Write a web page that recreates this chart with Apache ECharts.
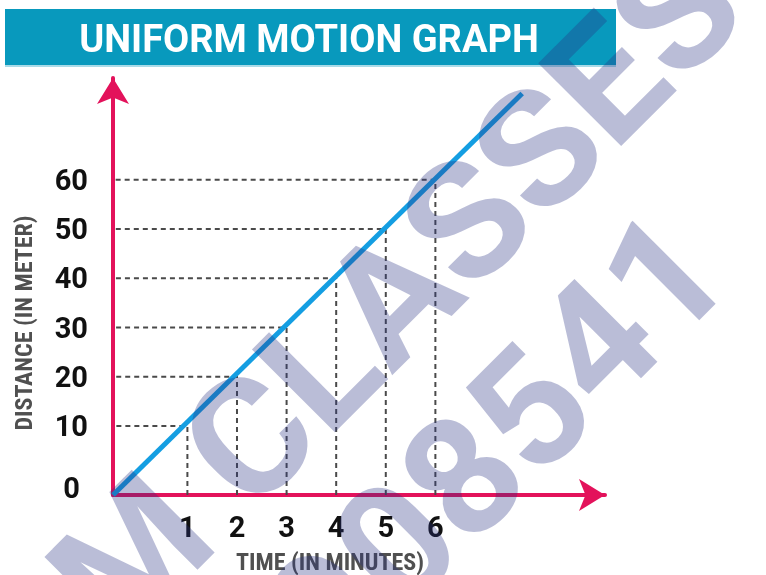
<!DOCTYPE html>
<html>
<head>
<meta charset="utf-8">
<title>Uniform Motion Graph</title>
<script src="https://cdn.jsdelivr.net/npm/echarts@6.0.0/dist/echarts.min.js"></script>
<style>
  html, body { margin: 0; padding: 0; background: #fff; }
  #chart { width: 766px; height: 575px; }
</style>
</head>
<body>
<div id="chart"></div>
<script>
// tick labels
const TIME_TICKS = [1, 2, 3, 4, 5, 6];
const DISTANCE_TICKS = [10, 20, 30, 40, 50, 60];

// readings marked with dashed guides (minutes, metres)
const POINT_TIME = [1, 2, 3, 4, 5, 6];
const POINT_DIST = [10, 20, 30, 40, 50, 60];

// the motion line as drawn: from the origin corner past the last reading
const LINE_TIME = [-0.5, 7.75];
const LINE_DIST = [-4, 77.5];

// axis ranges (the corner of the axes is the drawn origin)
const X_MIN = -0.5, X_MAX = 9.42;
const Y_MIN = -4, Y_MAX = 80.65;

const AXIS_PINK = '#e3125b';
const NARROW = '"Liberation Sans Narrow", "Roboto Condensed", "DejaVu Sans Condensed", Roboto, sans-serif';
const WATERMARK = 'rgba(40,50,130,0.32)';

const chart = echarts.init(document.getElementById('chart'));

const isTick = (list, v) => list.some(t => Math.abs(t - v) < 1e-6);

const option = {
  backgroundColor: '#fff',
  animation: false,
  grid: {
    left: 113, right: 161, top: 78, bottom: 80,
    containLabel: false,
    outerBoundsMode: 'none'
  },
  xAxis: {
    type: 'value',
    min: X_MIN,
    max: X_MAX,
    interval: 0.5,
    name: 'TIME (IN MINUTES)',
    nameLocation: 'middle',
    nameGap: 57,
    nameTextStyle: {
      fontFamily: NARROW, fontWeight: 'bold', fontSize: 24, color: '#505050',
      padding: [0, 58, 0, 0]
    },
    axisLine: {
      show: true, onZero: false,
      symbol: ['none', 'arrow'], symbolSize: [24, 26],
      lineStyle: { color: AXIS_PINK, width: 4 }
    },
    axisTick: { show: false },
    splitLine: { show: false },
    axisLabel: {
      margin: 20,
      fontFamily: 'Roboto', fontWeight: 'bold', fontSize: 29, color: '#111',
      formatter: v => isTick(TIME_TICKS, v) ? String(Math.round(v)) : ''
    }
  },
  yAxis: {
    type: 'value',
    min: Y_MIN,
    max: Y_MAX,
    interval: 2,
    name: 'DISTANCE (IN METER)',
    nameLocation: 'middle',
    nameRotate: 90,
    nameGap: 75,
    nameTextStyle: {
      fontFamily: NARROW, fontWeight: 'bold', fontSize: 24, color: '#505050',
      padding: [0, 73, 0, 0]
    },
    axisLine: {
      show: true, onZero: false,
      symbol: ['none', 'arrow'], symbolSize: [24, 26],
      lineStyle: { color: AXIS_PINK, width: 4 }
    },
    axisTick: { show: false },
    splitLine: { show: false },
    axisLabel: {
      margin: 25,
      padding: [6, 0, 0, 0],
      fontFamily: 'Roboto', fontWeight: 'bold', fontSize: 29, color: '#111',
      formatter: v => {
        if (Math.abs(v - Y_MIN) < 1e-6) return '{z|0}';
        return isTick(DISTANCE_TICKS, v) ? String(Math.round(v)) : '';
      },
      rich: {
        z: { fontFamily: 'Roboto', fontWeight: 'bold', fontSize: 29, color: '#111', padding: [0, 8, 14, 0] }
      }
    }
  },
  series: [
    {
      // dashed guides from each reading to both axes
      type: 'custom',
      z: 2,
      data: POINT_TIME.map((t, i) => [t, POINT_DIST[i]]),
      renderItem: (params, api) => {
        const t = api.value(0), d = api.value(1);
        const p = api.coord([t, d]);
        const onX = api.coord([t, Y_MIN]);
        const onY = api.coord([X_MIN, d]);
        return {
          type: 'polyline',
          shape: { points: [onX, p, onY] },
          style: { stroke: '#4a4a4a', lineWidth: 2, lineDash: [5, 4], fill: null }
        };
      }
    },
    {
      type: 'line',
      z: 3,
      data: LINE_TIME.map((t, i) => [t, LINE_DIST[i]]),
      symbol: 'none',
      lineStyle: { color: '#149ee2', width: 5, cap: 'butt' }
    }
  ],
  graphic: [
    {
      type: 'rect', z: 10, silent: true,
      shape: { x: 5, y: 9, width: 611, height: 56 },
      style: { fill: '#0899bd' }
    },
    {
      type: 'rect', z: 10, silent: true,
      shape: { x: 5, y: 65, width: 611, height: 2 },
      style: { fill: '#a9dbe8' }
    },
    {
      type: 'text', z: 11, silent: true,
      x: 309, y: 42,
      style: {
        text: 'UNIFORM MOTION GRAPH',
        fill: '#fff', font: 'bold 38px Roboto',
        align: 'center', verticalAlign: 'middle'
      }
    },
    // watermark
    {
      type: 'text', z: 50, silent: true,
      x: 222, y: 487, rotation: Math.PI / 4,
      style: {
        text: 'OM ', fill: WATERMARK, font: 'bold 165px Roboto',
        align: 'right', verticalAlign: 'middle'
      }
    },
    {
      type: 'text', z: 50, silent: true,
      x: 222, y: 487, rotation: Math.PI / 4,
      style: {
        text: 'CLASSES', fill: WATERMARK, font: 'bold 165px Roboto',
        align: 'left', verticalAlign: 'middle'
      }
    },
    {
      type: 'text', z: 50, silent: true,
      x: 373, y: 588, rotation: Math.PI / 4,
      style: {
        text: '9', fill: WATERMARK, font: 'bold 165px Roboto',
        align: 'right', verticalAlign: 'middle'
      }
    },
    {
      type: 'text', z: 50, silent: true,
      x: 373, y: 588, rotation: Math.PI / 4,
      style: {
        text: '08541', fill: WATERMARK, font: 'bold 165px Roboto',
        align: 'left', verticalAlign: 'middle'
      }
    }
  ]
};

chart.setOption(option);
</script>
</body>
</html>
